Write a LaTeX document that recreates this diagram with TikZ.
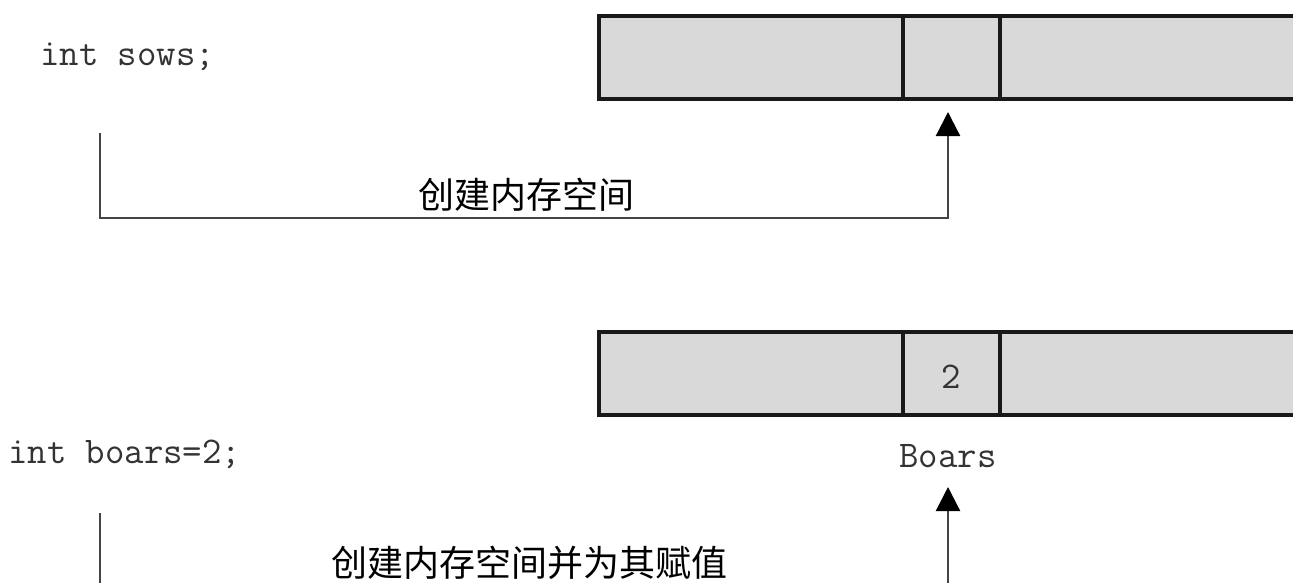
\documentclass[tikz,border=0pt]{standalone}
\usepackage{fontspec}
\newfontfamily\cjk{Noto Sans CJK SC}
\usetikzlibrary{arrows.meta}
\definecolor{cellgray}{HTML}{D9D9D9}
\definecolor{linegray}{HTML}{444444}
\begin{document}
\begin{tikzpicture}[x=1pt,y=-1pt,
  cell/.style={draw=black!90, line width=3.8pt, fill=cellgray, minimum height=83pt, inner sep=0pt, anchor=north west},
  code/.style={font=\ttfamily\fontsize{37.7}{38}\selectfont, inner sep=0pt, text=black!80},
  lbl/.style={font=\cjk\fontsize{36}{36}\selectfont, inner sep=0pt, text=black},
  conn/.style={line width=2.2pt, draw=linegray},
  arr/.style={conn, -{Triangle[length=24pt,width=24pt,color=black]}}]
\useasboundingbox (0,0) rectangle (1293,582);
\clip (0,0) rectangle (1293,582);

% ---- top: int sows;
\node[code, anchor=base west] (sows) at (40,65) {int sows;};
\node[cell, minimum width=304pt] (a1) at (597,14) {};
\node[cell, minimum width=97pt] (a2) at (901,14) {};
\node[cell, minimum width=320pt] (a3) at (998,14) {};
\node[lbl] (lab1) at (526,195) {创建内存空间};
\coordinate (s1) at (100,133);
\coordinate (k1) at (100,218);
\coordinate (t1) at (948,112);
\draw[arr] (s1) -- (k1) -| (t1);

% ---- bottom: int boars=2;
\node[code, anchor=base west] (boars) at (8,463) {int boars=2;};
\node[cell, minimum width=304pt] (b1) at (597,330) {};
\node[cell, minimum width=97pt] (b2) at (901,330) {};
\node[cell, minimum width=320pt] (b3) at (998,330) {};
\node[code, anchor=base] (val) at (b2.center |- 0,388) {2};
\node[code, anchor=base] (name) at (948,467) {Boars};
\node[lbl] (lab2) at (529,563) {创建内存空间并为其赋值};
\coordinate (s2) at (100,513);
\coordinate (k2) at (100,600);
\coordinate (t2) at (948,487);
\draw[arr] (s2) -- (k2) -| (t2);
\end{tikzpicture}
\end{document}
